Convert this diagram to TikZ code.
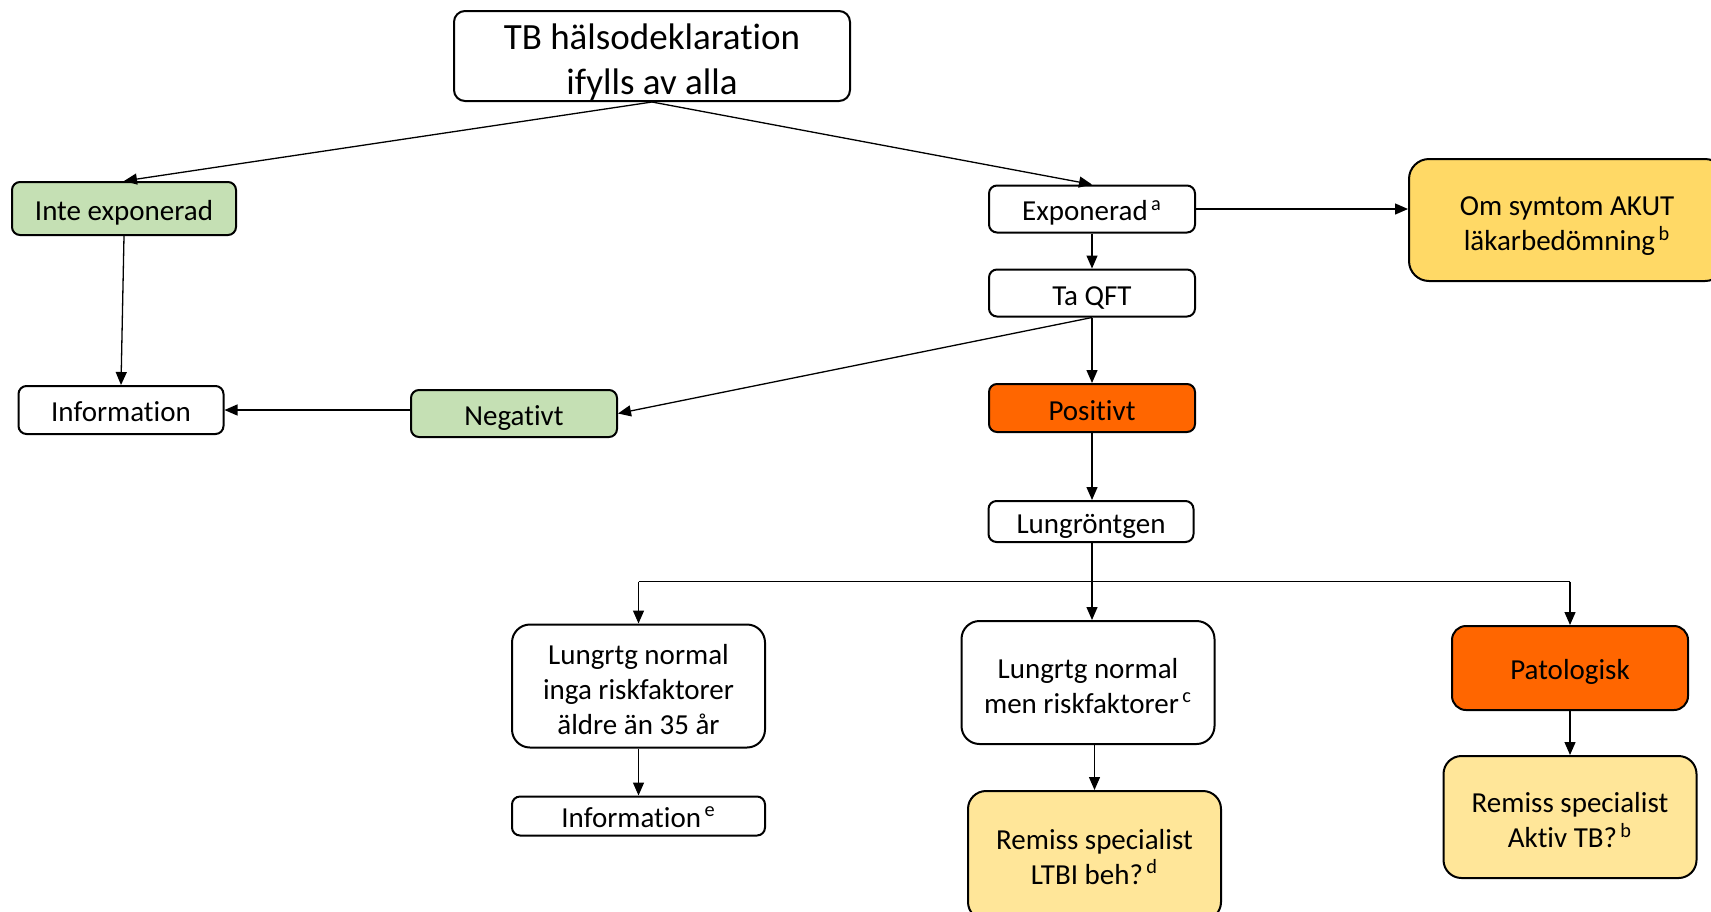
\documentclass[tikz,border=0pt]{standalone}
\usepackage{fontspec}
\setmainfont{Carlito}[Ligatures=NoCommon]
\usetikzlibrary{arrows.meta}
\definecolor{cgreen}{HTML}{C5E0B4}
\definecolor{corange}{HTML}{FF6600}
\definecolor{cyellow}{HTML}{FFD966}
\definecolor{clight}{HTML}{FFE699}
\tikzset{
  box/.style={draw=black, line width=1pt, rounded corners=4pt, align=center, inner sep=0pt,
    font=\fontsize{14.5}{17.5}\selectfont},
  tx/.style={execute at begin node={\rule{0pt}{#1}}},
  bigbox/.style={box, rounded corners=9pt},
  conn/.style={line width=0.65pt, -{Triangle[length=6.5pt,width=5.5pt]}},
  plain/.style={line width=0.65pt}
}
\newcommand{\sps}[1]{\textsuperscript{\,#1}}
\newcommand{\tp}[1]{\rule{0pt}{#1}}
\begin{document}
\begin{tikzpicture}[x=0.5pt,y=-0.5pt]
\useasboundingbox (0,0) rectangle (1711,911);
\node[box, rounded corners=5.5pt, minimum width=198pt, minimum height=45pt,
  font=\fontsize{18.5}{22.2}\selectfont] (tb) at (652,56) {\tp{19.1pt}TB hälsodeklaration\\ifylls av alla};
\node[box, tx=14.1pt, fill=cgreen, minimum width=112pt, minimum height=26.5pt] (inte) at (124,208.5) {Inte exponerad};
\node[box, tx=11.1pt, minimum width=102.5pt, minimum height=24pt] (info1) at (121,410) {Information};
\node[box, tx=14.1pt, fill=cgreen, minimum width=103pt, minimum height=23.5pt] (neg) at (514,413.5) {Negativt};
\node[box, tx=14.1pt, minimum width=103pt, minimum height=23.5pt] (exp) at (1092,209) {Exponerad\sps{a}};
\node[box, tx=14.1pt, minimum width=103pt, minimum height=23.5pt] (qft) at (1092,293) {Ta QFT};
\node[box, tx=12.1pt, fill=corange, minimum width=103pt, minimum height=24pt] (pos) at (1092,408) {Positivt};
\node[box, tx=14.1pt, minimum width=102.5pt, minimum height=20.5pt] (lung) at (1091,521.5) {Lungröntgen};
\node[bigbox, fill=cyellow, rounded corners=10pt, minimum width=158pt, minimum height=61pt] (om) at (1567,220) {\tp{15.5pt}Om symtom AKUT\\läkarbedömning\sps{b}};
\node[bigbox, minimum width=126.5pt, minimum height=61.5pt] (inga) at (638.5,686) {\tp{13.5pt}Lungrtg normal\\inga riskfaktorer\\äldre än 35 år};
\node[bigbox, minimum width=126.5pt, minimum height=61.5pt] (men) at (1088,682.5) {\tp{13.5pt}Lungrtg normal\\men riskfaktorer\sps{c}};
\node[bigbox, tx=14.1pt, fill=corange, rounded corners=7pt, minimum width=118pt, minimum height=42pt] (pat) at (1570,668) {Patologisk};
\node[box, tx=11.1pt, minimum width=126.5pt, minimum height=19.5pt] (info2) at (638.5,816) {Information\sps{e}};
\node[bigbox, fill=clight, minimum width=126.5pt, minimum height=64.5pt] (ltbi) at (1094.5,855.5) {\tp{11.3pt}Remiss specialist\\LTBI beh?\sps{d}};
\node[bigbox, fill=clight, minimum width=126.5pt, minimum height=61pt] (aktiv) at (1570,817) {\tp{13.5pt}Remiss specialist\\Aktiv TB?\sps{b}};
\coordinate (sp) at (0,581.6);
% connectors
\draw[conn] (tb.south) -- (inte.north);
\draw[conn] (tb.south) -- (exp.north);
\draw[conn] (inte.south) -- (info1.north);
\draw[conn] (neg.west |- info1.east) -- (info1.east);
\draw[conn] (exp.east) -- (om.west |- exp.east);
\draw[conn] (exp.south) -- (qft.north);
\draw[conn] (qft.south) -- (neg.east);
\draw[conn] (qft.south) -- (pos.north);
\draw[conn] (pos.south) -- (pos.south |- lung.north);
\draw[conn] (pos.south |- lung.south) -- (pos.south |- men.north);
\draw[plain] (inga.north |- sp) -- (pat.north |- sp);
\draw[conn] (inga.north |- sp) -- (inga.north);
\draw[conn] (pat.north |- sp) -- (pat.north);
\draw[conn] (inga.south) -- (info2.north);
\draw[conn] (ltbi.north |- men.south) -- (ltbi.north);
\draw[conn] (pat.south) -- (aktiv.north);
\end{tikzpicture}
\end{document}
